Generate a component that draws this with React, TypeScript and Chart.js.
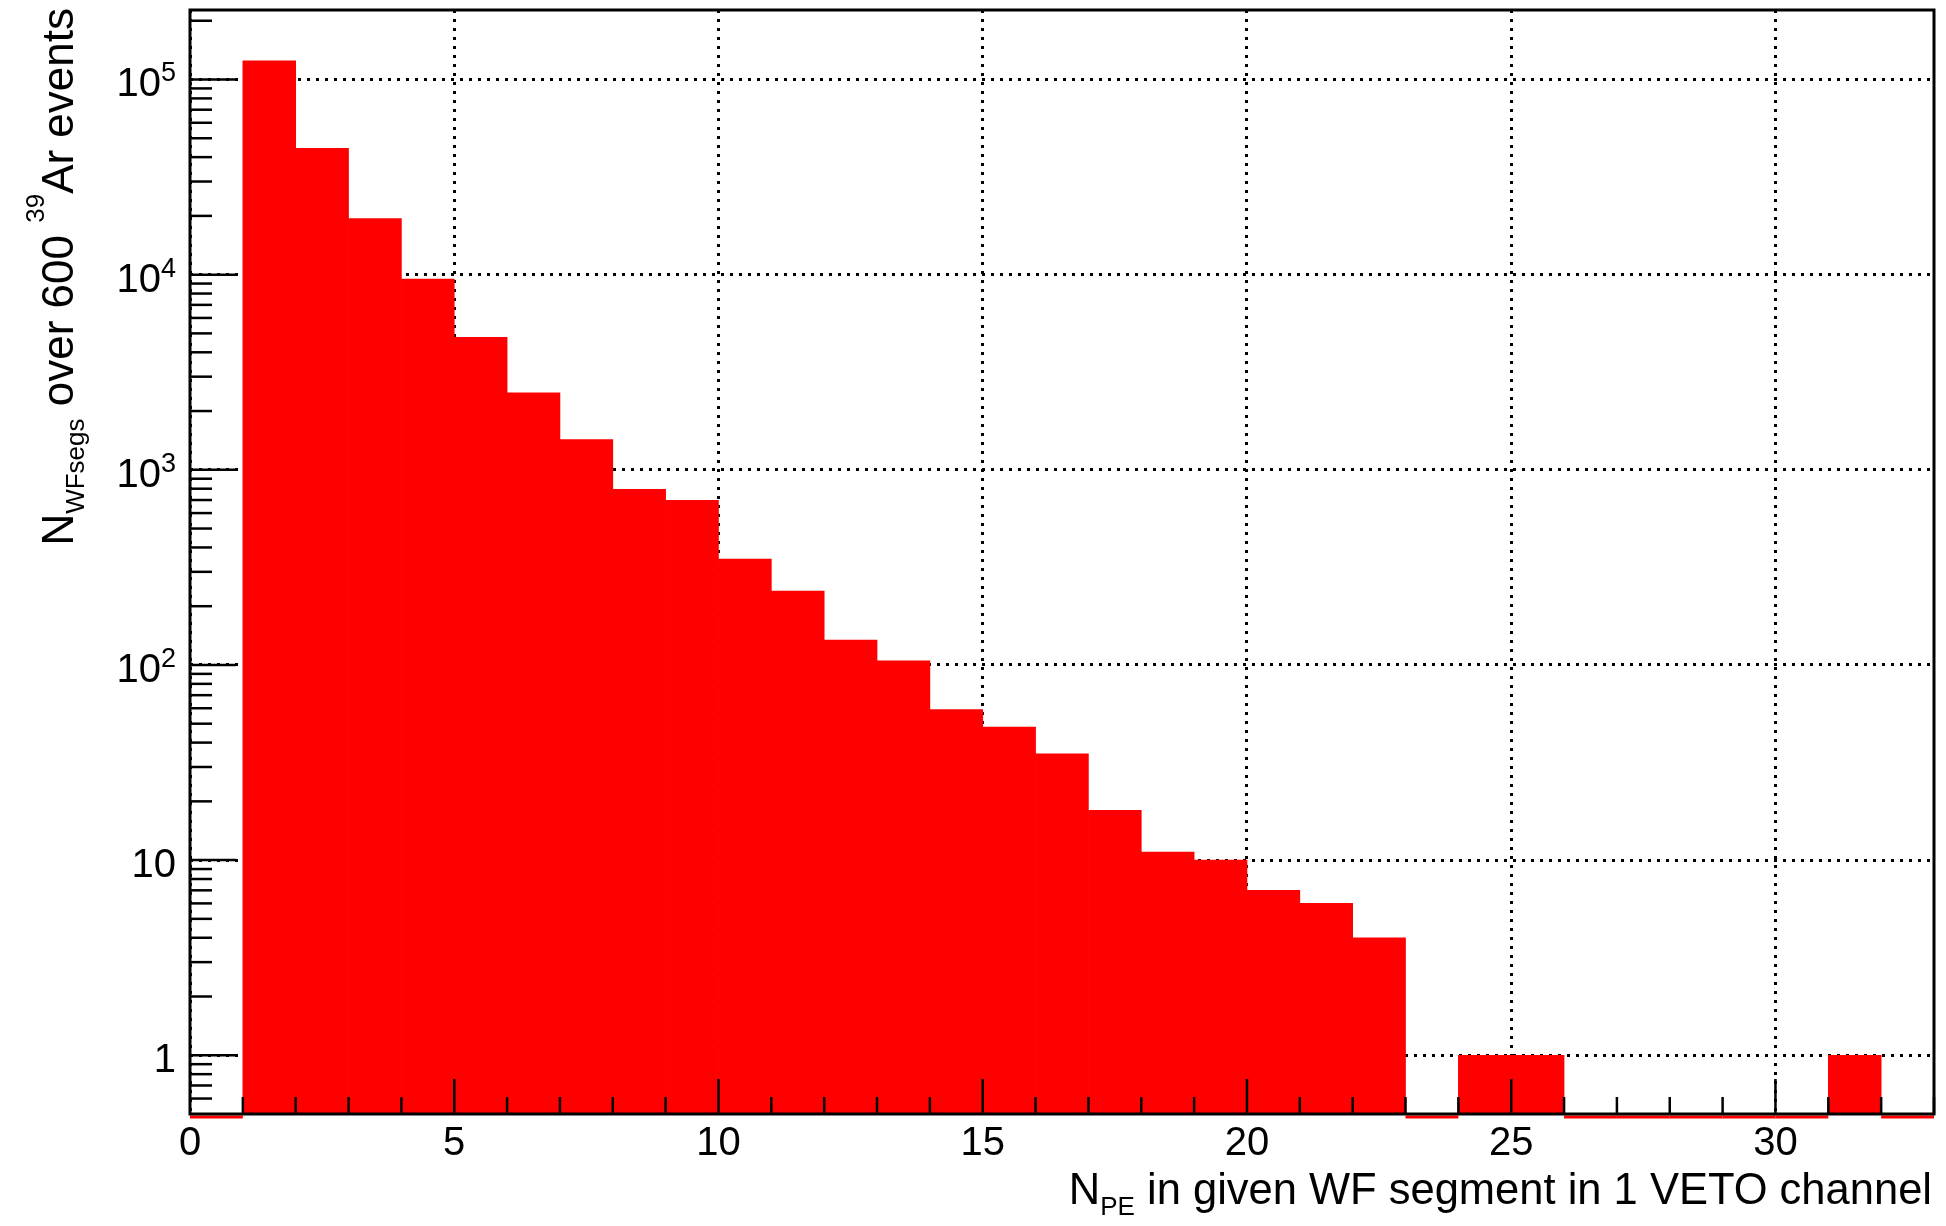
import React, { useEffect, useRef } from 'react';
import { Chart, registerables } from 'chart.js';

Chart.register(...registerables);

// ---- data ----
const binLowEdges = [0, 1, 2, 3, 4, 5, 6, 7, 8, 9, 10, 11, 12, 13, 14, 15, 16, 17, 18, 19, 20, 21, 22, 23, 24, 25, 26, 27, 28, 29, 30, 31, 32];
const binWidth = 1;
const counts = [0, 124500, 44400, 19400, 9500, 4770, 2480, 1430, 795, 697, 349, 239, 134, 105, 59, 48, 35, 18, 11, 10, 7, 6, 4, 0, 1, 1, 0, 0, 0, 0, 0, 1, 0];

const xRange = [0, 33];
const yRange = [0.5, 2.27e5];
const xTickValues = [0, 5, 10, 15, 20, 25, 30];
const xTickLabels = ['0', '5', '10', '15', '20', '25', '30'];
const yTickValues = [1, 10, 100, 1000, 10000, 100000];
const yTickBases = ['1', '10', '10', '10', '10', '10'];
const yTickExponents = ['', '', '2', '3', '4', '5'];

// title pieces: [text, kind] kind: n = normal, sub = subscript, sup = superscript
const xTitleParts: [string, string][] = [['N', 'n'], ['PE', 'sub'], [' in given WF segment in 1 VETO channel', 'n']];
const yTitleParts: [string, string][] = [['N', 'n'], ['WFsegs', 'sub'], [' over 600 ', 'n'], ['39', 'sup'], ['Ar events', 'n']];

const FONT = '"Liberation Sans", Arial, Helvetica, sans-serif';
const SMALL_SIZE = 26;
const LABEL_SIZE = 40;
const EXP_SIZE = 27;

function drawRich(ctx: CanvasRenderingContext2D, parts: [string, string][], xRight: number, yBase: number, mainSize: number) {
  const pieces = parts.map(([t, k]) => {
    const size = k === 'n' ? mainSize : SMALL_SIZE;
    ctx.font = `${size}px ${FONT}`;
    const w = ctx.measureText(t).width;
    const dy = k === 'sub' ? 11 : k === 'sup' ? -29 : 0;
    return { t, size, w, dy };
  });
  const total = pieces.reduce((a, p) => a + p.w, 0);
  let x = xRight - total;
  ctx.fillStyle = '#000';
  ctx.textAlign = 'left';
  ctx.textBaseline = 'alphabetic';
  for (const p of pieces) {
    ctx.font = `${p.size}px ${FONT}`;
    ctx.fillText(p.t, x, yBase + p.dy);
    x += p.w;
  }
}

const rootFramePlugin = {
  id: 'rootFrame',
  afterDatasetsDraw(chart: any) {
    const { ctx, chartArea: ca, scales } = chart;
    const xs = scales.x;
    const ys = scales.y;
    ctx.save();
    // red histogram outline for empty bins along the bottom
    ctx.strokeStyle = '#ff0000';
    ctx.lineWidth = 3;
    binLowEdges.forEach((lo, i) => {
      if (counts[i] > 0) return;
      const x1 = xs.getPixelForValue(lo);
      const x2 = xs.getPixelForValue(lo + binWidth);
      ctx.beginPath();
      ctx.moveTo(x1, ca.bottom + 3);
      ctx.lineTo(x2, ca.bottom + 3);
      ctx.stroke();
    });
    // inside ticks
    ctx.strokeStyle = '#000';
    ctx.lineWidth = 2.5;
    for (let v = xRange[0] + 1; v <= xRange[1]; v++) {
      const len = v % 5 === 0 ? 35 : 17;
      const px = xs.getPixelForValue(v);
      ctx.beginPath();
      ctx.moveTo(px, ca.bottom);
      ctx.lineTo(px, ca.bottom - len);
      ctx.stroke();
    }
    for (let e = -1; e <= 5; e++) {
      for (let m = 1; m <= 9; m++) {
        const v = m * Math.pow(10, e);
        if (v <= yRange[0] || v > yRange[1]) continue;
        const len = m === 1 ? 46 : 22;
        const py = ys.getPixelForValue(v);
        ctx.beginPath();
        ctx.moveTo(ca.left, py);
        ctx.lineTo(ca.left + len, py);
        ctx.stroke();
      }
    }
    // frame
    ctx.lineWidth = 3;
    ctx.strokeRect(ca.left, ca.top, ca.right - ca.left, ca.bottom - ca.top);
    ctx.restore();
  },
  afterDraw(chart: any) {
    const { ctx, scales } = chart;
    const ys = scales.y;
    // y tick labels with real superscript exponents
    ctx.save();
    ctx.fillStyle = '#000';
    ctx.textBaseline = 'alphabetic';
    ctx.textAlign = 'right';
    const xr = 176;
    yTickValues.forEach((v, i) => {
      const py = ys.getPixelForValue(v);
      const base = py + 17;
      let right = xr;
      const ex = yTickExponents[i];
      if (ex) {
        ctx.font = `${EXP_SIZE}px ${FONT}`;
        ctx.fillText(ex, right, base - 15);
        right -= ctx.measureText(ex).width;
      }
      ctx.font = `${LABEL_SIZE}px ${FONT}`;
      ctx.fillText(yTickBases[i], right, base);
    });
    ctx.restore();
    ctx.save();
    drawRich(ctx, xTitleParts, 1932, 1204, 43.5);
    ctx.restore();
    ctx.save();
    ctx.translate(73, 8);
    ctx.rotate(-Math.PI / 2);
    drawRich(ctx, yTitleParts, 0, 0, 44);
    ctx.restore();
  },
};

export default function App() {
  const ref = useRef<HTMLCanvasElement>(null);
  useEffect(() => {
    const points = binLowEdges.map((lo, i) => ({ x: lo + binWidth / 2, y: counts[i] }));
    const chart = new Chart(ref.current as HTMLCanvasElement, {
      type: 'bar',
      data: {
        datasets: [
          {
            label: 'NPE',
            data: points,
            backgroundColor: '#ff0000',
            borderWidth: 0,
            barPercentage: 1,
            categoryPercentage: 1,
          },
        ],
      },
      options: {
        responsive: false,
        animation: false,
        devicePixelRatio: 1,
        layout: { padding: { top: 10, right: 12, left: 0, bottom: 0 } },
        plugins: { legend: { display: false }, tooltip: { enabled: false }, title: { display: false } },
        scales: {
          x: {
            type: 'linear',
            min: xRange[0],
            max: xRange[1],
            offset: false,
            afterBuildTicks: (scale: any) => {
              scale.ticks = xTickValues.map((v) => ({ value: v }));
            },
            afterFit: (scale: any) => {
              scale.height = 112;
              scale.paddingLeft = 0;
              scale.paddingRight = 0;
            },
            ticks: {
              callback: (_v: any, i: number) => xTickLabels[i],
              color: '#000',
              font: { family: FONT, size: LABEL_SIZE },
              padding: 6,
              maxRotation: 0,
              autoSkip: false,
            },
            grid: { color: '#000', lineWidth: 3, drawTicks: false, offset: false },
            border: { display: false, dash: [3, 6] },
          },
          y: {
            type: 'logarithmic',
            min: yRange[0],
            max: yRange[1],
            afterBuildTicks: (scale: any) => {
              scale.ticks = yTickValues.map((v) => ({ value: v }));
            },
            afterFit: (scale: any) => {
              scale.width = 190;
              scale.paddingTop = 0;
              scale.paddingBottom = 0;
            },
            ticks: { display: false },
            grid: { color: '#000', lineWidth: 3, drawTicks: false },
            border: { display: false, dash: [3, 6] },
          },
        },
      },
      plugins: [rootFramePlugin],
    } as any);
    return () => chart.destroy();
  }, []);
  return (
    <div style={{ position: 'fixed', left: 0, top: 0, width: 1946, height: 1226, background: '#fff' }}>
      <canvas ref={ref} width={1946} height={1226} style={{ display: 'block', width: 1946, height: 1226 }} />
    </div>
  );
}
